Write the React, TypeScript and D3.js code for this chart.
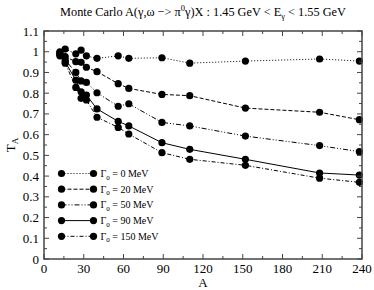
import React from "react";
import * as d3 from "d3";

const massNumbers = [12, 16, 24, 28, 32, 40, 56, 64, 89, 110, 152, 208, 238];
const g0 = [1.0, 1.013, 0.99, 1.008, 0.98, 0.968, 0.98, 0.968, 0.971, 0.945, 0.955, 0.965, 0.955];
const g20 = [0.995, 0.976, 0.952, 0.949, 0.925, 0.904, 0.846, 0.823, 0.794, 0.788, 0.728, 0.708, 0.672];
const g50 = [0.99, 0.96, 0.9, 0.859, 0.852, 0.802, 0.737, 0.749, 0.659, 0.642, 0.593, 0.547, 0.518];
const g90 = [0.985, 0.95, 0.863, 0.807, 0.791, 0.724, 0.664, 0.642, 0.561, 0.529, 0.481, 0.415, 0.405];
const g150 = [0.98, 0.945, 0.828, 0.775, 0.767, 0.684, 0.635, 0.603, 0.513, 0.481, 0.452, 0.39, 0.37];

const seriesLabels = ["0 MeV", "20 MeV", "50 MeV", "90 MeV", "150 MeV"];
const seriesValues = [g0, g20, g50, g90, g150];
const dashes = ["1,2", "4,2", "5,2,1,2,1,2", "", "4,2,1,2"];

const xTicks = [0, 30, 60, 90, 120, 150, 180, 210, 240];
const yTicks = [0, 0.1, 0.2, 0.3, 0.4, 0.5, 0.6, 0.7, 0.8, 0.9, 1, 1.1];

const W = 374, H = 290;
const L = 44, R = 362, T = 31, B = 259;
const font = "'Liberation Serif', 'Times New Roman', serif";

export default function App() {
  const x = d3.scaleLinear().domain([0, 240]).range([L, R]);
  const y = d3.scaleLinear().domain([0, 1.1]).range([B, T]);
  const line = d3.line<[number, number]>().x(d => x(d[0])).y(d => y(d[1]));

  const xMinor = d3.range(0, 241, 15);
  const yMinor = d3.range(0, 1.101, 0.05);
  const axisColor = "#444";

  const legendX0 = 61.5, legendX1 = 93.5;
  const legendY0 = 173.5, legendDy = 15.7;

  return (
    <svg width={W} height={H} style={{ position: "absolute", left: 0, top: 0, background: "#fff" }} fontFamily={font}>
      {/* title */}
      <text x={203} y={16} textAnchor="middle" fontSize={12.3} fill="#000">
        Monte Carlo A(γ,ω −&gt; π<tspan dy={-5} fontSize={8.5}>0</tspan><tspan dy={5}>γ)X :  1.45 GeV &lt; E</tspan>
        <tspan dy={3} fontSize={8.5}>γ</tspan><tspan dy={-3}> &lt; 1.55 GeV</tspan>
      </text>

      {/* series */}
      {seriesValues.map((vals, i) => {
        const pts = massNumbers.map((a, j) => [a, vals[j]] as [number, number]);
        return (
          <g key={i}>
            <path d={line(pts) || ""} fill="none" stroke="#000" strokeWidth={1} strokeDasharray={dashes[i] || undefined} />
            {pts.map((p, j) => (
              <circle key={j} cx={x(p[0])} cy={y(p[1])} r={3.6} fill="#000" />
            ))}
          </g>
        );
      })}

      {/* legend */}
      {seriesLabels.map((lab, i) => {
        const ly = legendY0 + i * legendDy;
        return (
          <g key={i}>
            <line x1={legendX0} x2={legendX1} y1={ly} y2={ly} stroke="#000" strokeWidth={1} strokeDasharray={dashes[i] || undefined} />
            <circle cx={legendX0} cy={ly} r={3.6} fill="#000" />
            <circle cx={legendX1} cy={ly} r={3.6} fill="#000" />
            <text x={100.5} y={ly + 3.5} fontSize={10} fill="#000">
              Γ<tspan dy={2.5} fontSize={7}>0</tspan><tspan dy={-2.5}> = {lab}</tspan>
            </text>
          </g>
        );
      })}

      {/* ticks */}
      {xMinor.map((v, i) => {
        const major = xTicks.includes(v);
        const len = major ? 5 : 3;
        return (
          <g key={"xt" + i}>
            <line x1={x(v)} x2={x(v)} y1={B} y2={B - len} stroke={axisColor} strokeWidth={1} />
            <line x1={x(v)} x2={x(v)} y1={T} y2={T + len} stroke={axisColor} strokeWidth={1} />
          </g>
        );
      })}
      {yMinor.map((v, i) => {
        const major = i % 2 === 0;
        const len = major ? 5 : 3;
        return (
          <g key={"yt" + i}>
            <line x1={L} x2={L + len} y1={y(v)} y2={y(v)} stroke={axisColor} strokeWidth={1} />
            <line x1={R} x2={R - len} y1={y(v)} y2={y(v)} stroke={axisColor} strokeWidth={1} />
          </g>
        );
      })}

      {/* frame */}
      <rect x={L} y={T} width={R - L} height={B - T} fill="none" stroke={axisColor} strokeWidth={1.5} />

      {/* tick labels */}
      {xTicks.map((v, i) => (
        <text key={"xl" + i} x={x(v)} y={B + 14} textAnchor="middle" fontSize={13} fill="#000">{v}</text>
      ))}
      {yTicks.map((v, i) => (
        <text key={"yl" + i} x={L - 5} y={y(v) + 4.5} textAnchor="end" fontSize={13} fill="#000">{d3.format("~g")(v)}</text>
      ))}

      {/* axis labels */}
      <text x={203} y={287} textAnchor="middle" fontSize={13} fill="#000">A</text>
      <text transform={`translate(15,${(T + B) / 2}) rotate(-90)`} textAnchor="middle" fontSize={13} fill="#000">
        T<tspan dy={3} fontSize={9}>A</tspan>
      </text>
    </svg>
  );
}
